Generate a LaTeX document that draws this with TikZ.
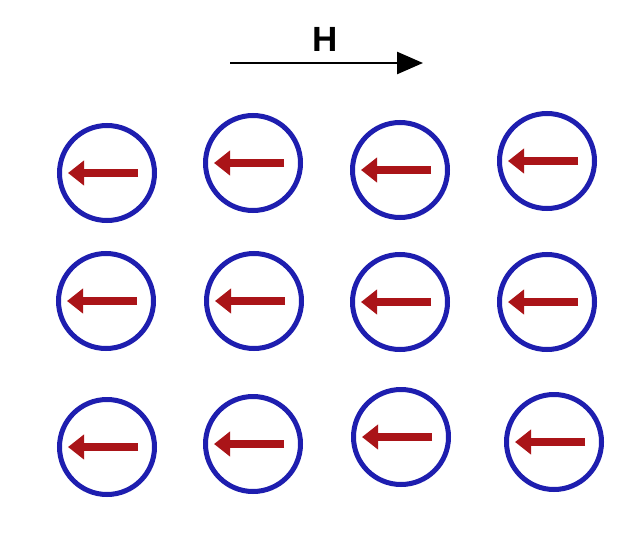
\documentclass[tikz,border=0pt]{standalone}
\usepackage{fontspec}
\setmainfont{Liberation Sans}
\usetikzlibrary{arrows.meta}
\definecolor{ringblue}{RGB}{30,30,175}
\definecolor{spinred}{RGB}{170,20,24}
\tikzset{
  ring/.style={circle, draw=ringblue, line width=5pt, minimum size=95pt, inner sep=0pt},
  spin/.style={draw=spinred, line width=7.5pt, -{Triangle[length=16pt,width=24pt]}},
  field/.style={draw=black, line width=2.6pt, -{Triangle[length=26pt,width=22pt]}},
}
\begin{document}
\begin{tikzpicture}[x=1pt,y=-1pt]
\useasboundingbox (0,0) rectangle (636,540);
\fill[white] (0,0) rectangle (636,540);
% field arrow
\node[font=\bfseries\fontsize{35}{38}\selectfont, inner sep=0pt] (H) at (325,39) {H};
\coordinate (hs) at (230,63);
\coordinate (he) at (423,63);
\draw[field] (hs) -- (he);
% lattice of spins
\foreach \n/\x/\y in {11/107/173, 12/253/163, 13/400/170, 14/547/161,
                      21/106/301, 22/254/301, 23/400/302, 24/547/302,
                      31/107/447, 32/253/444, 33/401/437, 34/554/442}{
  \node[ring] (c\n) at (\x,\y) {};
  \draw[spin] ([xshift=31pt]c\n.center) -- ([xshift=-39pt]c\n.center);
}
\end{tikzpicture}
\end{document}
